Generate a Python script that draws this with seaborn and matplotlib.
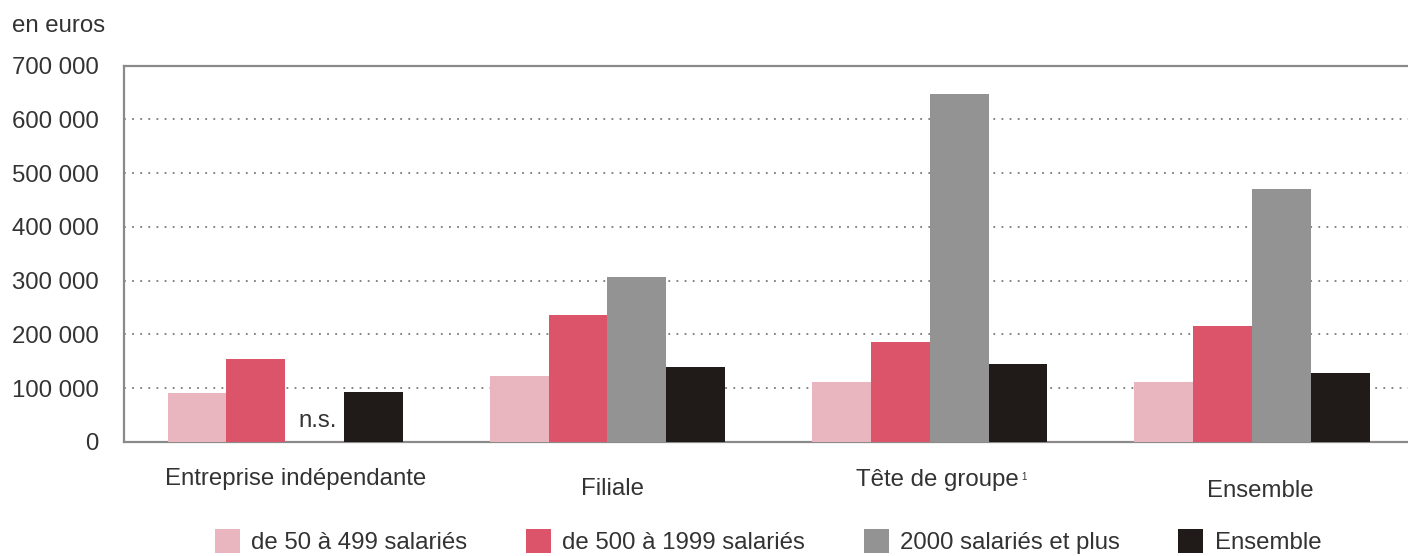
import numpy as np
import pandas as pd
import matplotlib
matplotlib.use("Agg")
import matplotlib.pyplot as plt
import matplotlib.transforms as mtransforms
import seaborn as sns

# ---------------- data ----------------
categories = ["Entreprise indépendante", "Filiale", "Tête de groupe", "Ensemble"]
category_notes = ["", "", "1", ""]
size_classes = ["de 50 à 499 salariés", "de 500 à 1999 salariés",
                "2000 salariés et plus", "Ensemble"]
v_50_499 = [91000, 123000, 112000, 111000]
v_500_1999 = [154000, 236000, 185000, 216000]
v_2000_plus = [np.nan, 307000, 647000, 470000]   # n.s. for independent firms
v_ensemble = [93000, 140000, 145000, 128000]
y_ticks = [0, 100000, 200000, 300000, 400000, 500000, 600000, 700000]
y_tick_labels = ["0", "100 000", "200 000", "300 000", "400 000",
                 "500 000", "600 000", "700 000"]
unit_label = "en euros"
ns_label = "n.s."

# ---------------- styles / layout ----------------
colors = ["#e9b5bf", "#db5469", "#939393", "#201a19"]
text_color = "#333333"
spine_color = "#8a8a8a"
FS = 17.3
bar_width = 0.73
label_dx = [0.032, 0.017, 0.025, 0.026]        # category label offsets (data units)
label_y = [-0.115, -0.142, -0.118, -0.146]     # category label baselines (axes units)

sns.set_theme(style="white")
plt.rcParams["font.family"] = ["Liberation Sans", "DejaVu Sans"]
plt.rcParams["text.color"] = text_color

rows = []
series = [v_50_499, v_500_1999, v_2000_plus, v_ensemble]
for s_name, vals in zip(size_classes, series):
    for c, v in zip(categories, vals):
        if not np.isnan(v):
            rows.append({"cat": c, "classe": s_name, "val": v})
df = pd.DataFrame(rows)

fig = plt.figure(figsize=(14.08, 5.56), dpi=100)
ax = fig.add_axes([124 / 1408, (556 - 442) / 556, 1 - 124 / 1408, (442 - 65.5) / 556])

sns.barplot(data=df, x="cat", y="val", hue="classe", order=categories,
            hue_order=size_classes, palette=colors, saturation=1,
            width=bar_width, linewidth=0, errorbar=None, ax=ax, zorder=3)

ax.set_xlim(-0.5, 3.484)
ax.set_ylim(0, 700000)
ax.set_yticks(y_ticks)
ax.set_yticklabels(y_tick_labels)
ax.set_xlabel("")
ax.set_ylabel("")
ax.set_xticks(range(len(categories)))
ax.set_xticklabels([])
ax.tick_params(axis="y", length=0, pad=18, labelsize=FS, labelcolor=text_color)
ax.tick_params(axis="x", length=0)

ax.yaxis.grid(True, linestyle=(0, (1, 3.5)), color="#7a7a7a", linewidth=1.3)
ax.set_axisbelow(True)
for side in ["top", "left", "bottom"]:
    ax.spines[side].set_color(spine_color)
    ax.spines[side].set_linewidth(1.6)
ax.spines["right"].set_visible(False)

# category labels (with optional footnote marker)
trans = mtransforms.blended_transform_factory(ax.transData, ax.transAxes)
for i, (c, note, dx, yy) in enumerate(zip(categories, category_notes, label_dx, label_y)):
    t = ax.text(i + dx, yy, c, transform=trans, ha="center", va="baseline",
                fontsize=FS, color=text_color, clip_on=False)
    if note:
        ax.annotate(note, xy=(1, 1), xycoords=t, xytext=(1.5, -2),
                    textcoords="offset points", ha="left", va="top",
                    fontsize=7, color=text_color, annotation_clip=False)

# n.s. marker in the empty slot
gray_offset = -bar_width / 2 + bar_width / 8 + 2 * bar_width / 4
ax.text(0 + gray_offset + 0.01, 28000, ns_label, ha="center", va="baseline",
        fontsize=FS, color=text_color, zorder=4)

fig.text(12 / 1408, (556 - 31.7) / 556, unit_label, ha="left", va="baseline",
         fontsize=FS, color=text_color)

sns.move_legend(ax, "center", bbox_to_anchor=(768 / 1408, (556 - 541.5) / 556),
                bbox_transform=fig.transFigure, ncol=4, frameon=False, title=None,
                fontsize=FS, handlelength=1.04, handleheight=1.15,
                handletextpad=0.46, columnspacing=2.45, borderpad=0)
for t in ax.get_legend().get_texts():
    t.set_color(text_color)

fig.savefig("out.png", dpi=100)
